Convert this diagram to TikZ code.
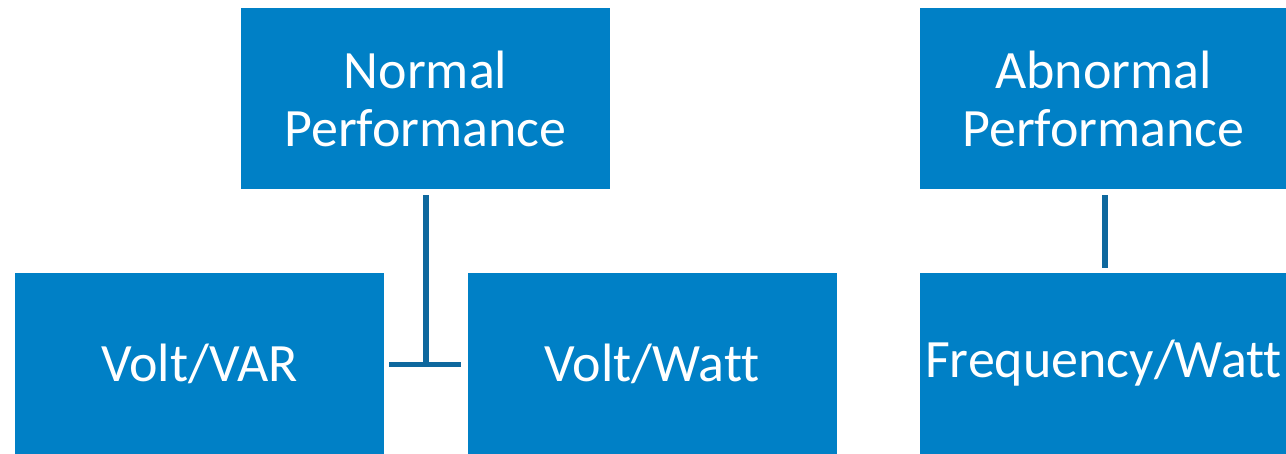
\documentclass[tikz,border=0pt]{standalone}
\usepackage{fontspec}
\setmainfont{Carlito}[Ligatures=NoCommon]
\usetikzlibrary{calc}
\definecolor{boxblue}{RGB}{0,128,198}
\definecolor{linkblue}{RGB}{14,104,158}
\tikzset{
  blk/.style={fill=boxblue, draw=none, inner sep=0pt, text=white, align=center,
    minimum height=181pt, font=\fontsize{54}{58}\selectfont},
  link/.style={draw=linkblue, line width=5.5pt}
}
\begin{document}
\begin{tikzpicture}[x=1pt,y=-1pt]
\useasboundingbox (0,0) rectangle (1286,453);
\node[blk, minimum width=369pt] (normal) at (425.5,98.5) {Normal\\Performance};
\node[blk, minimum width=367pt] (abnormal) at (1103.5,98.5) {Abnormal\\Performance};
\node[blk, minimum width=369pt] (var) at (199.5,363.5) {Volt/VAR};
\node[blk, minimum width=369pt] (watt) at (652,363.5) {Volt/Watt};
\node[blk, minimum width=367pt] (freq) at (1103.5,363.5) {Frequency/Watt};
\coordinate (j) at ($(normal.south)+(0.5,175.5)$);
\draw[link] ($(normal.south)+(0.5,6)$) -- (j);
\draw[link] ($(var.east)+(5,1)$) -- ($(watt.west)+(-6,1)$);
\draw[link] ($(abnormal.south)+(1.5,6)$) -- ($(freq.north)+(1.5,-5)$);
\end{tikzpicture}
\end{document}
